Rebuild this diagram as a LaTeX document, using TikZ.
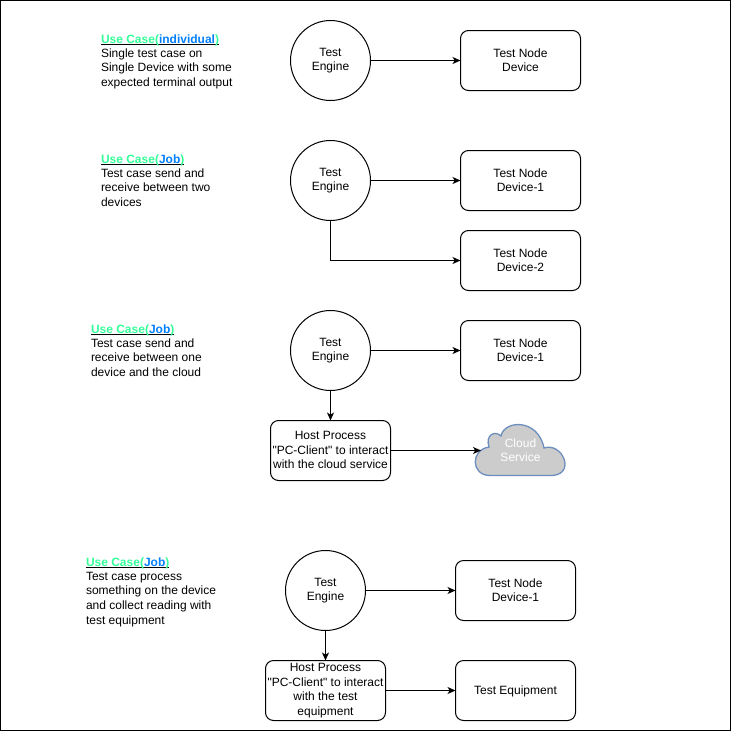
\documentclass[tikz,border=0pt]{standalone}
\usepackage{fontspec}
\newfontfamily\plainfont{Liberation Sans}
\usetikzlibrary{arrows.meta}
\definecolor{ucgreen}{HTML}{33FF99}
\definecolor{ucblue}{HTML}{007FFF}
\definecolor{cloudfill}{HTML}{CCCCCC}
\definecolor{cloudline}{HTML}{6C8EBF}
\newcommand{\uchead}[1]{\setbox0=\hbox{\textbf{\textcolor{ucgreen}{Use Case(}\textcolor{ucblue}{#1}\textcolor{ucgreen}{)}}}\lower1pt\hbox{\rlap{\rule[-1.4pt]{\wd0}{0.8pt}}\box0}}
\newcommand{\lblstrut}{\rule[-0.6pt]{0pt}{14.6pt}}
\tikzset{
  x=1pt,y=-1pt,
  every node/.style={font=\plainfont\fontsize{12}{14.6}\selectfont,inner sep=0pt,outer sep=0pt},
  strutted/.style={execute at begin node=\lblstrut,execute at end node=\lblstrut},
  engine/.style={strutted,draw,line width=1pt,circle,minimum size=80pt,align=center},
  devbox/.style={strutted,draw,line width=1pt,rounded corners=8pt,minimum width=120pt,minimum height=60pt,align=center},
  cloudtext/.style={strutted,text=white,align=center},
  notetext/.style={anchor=north west,align=left},
  conn/.style={draw,line width=1pt,-{Stealth[length=8pt,width=7pt,inset=2.2pt]}},
}
\begin{document}
\begin{tikzpicture}
\useasboundingbox (0,0) rectangle (731,731);
\draw[line width=1pt] (0.5,0.5) rectangle (730.5,730.5);

% Row 1
\node[notetext] (n1) at (101,35) {\uchead{individual}\\Single test case on\\Single Device with some\\expected terminal output};
\node[engine] (e1) at (330.5,60.5) {Test\\Engine};
\node[devbox] (d1) at (520.5,60.5) {Test Node\\Device};
\draw[conn] (e1) -- (d1);

% Row 2
\node[notetext] (n2) at (101,155) {\uchead{Job}\\Test case send and\\receive between two\\devices};
\node[engine] (e2) at (330.5,180.5) {Test\\Engine};
\node[devbox] (d2a) at (520.5,180.5) {Test Node\\Device-1};
\node[devbox] (d2b) at (520.5,260.5) {Test Node\\Device-2};
\draw[conn] (e2) -- (d2a);
\draw[conn] (e2.south) |- (d2b.west);

% Row 3
\node[notetext] (n3) at (91,325) {\uchead{Job}\\Test case send and\\receive between one\\device and the cloud};
\node[engine] (e3) at (330.5,350.5) {Test\\Engine};
\node[devbox] (d3) at (520.5,350.5) {Test Node\\Device-1};
\node[devbox] (h3) at (330.5,450.5) {Host Process\\"PC-Client" to interact\\with the cloud service};
\draw[conn] (e3) -- (d3);
\draw[conn] (e3) -- (h3);
\draw[line width=1.3pt,draw=cloudline,fill=cloudfill]
  (490,475.5) .. controls (471,475.5) and (470,450) .. (489,447)
  .. controls (485,435) and (495,430) .. (501,436)
  .. controls (504,420) and (538,418) .. (544,448)
  .. controls (562,442) and (576,473) .. (553,475.5) -- cycle;
\node[cloudtext] (c3) at (520.5,450.5) {Cloud\\Service};
\coordinate (c3in) at (481,450.5);
\draw[conn] (h3) -- (c3in);

% Row 4
\node[notetext] (n4) at (86,558) {\uchead{Job}\\Test case process\\something on the device\\and collect reading with\\test equipment};
\node[engine] (e4) at (325.5,590.5) {Test\\Engine};
\node[devbox] (d4) at (515.5,590.5) {Test Node\\Device-1};
\node[devbox] (h4) at (325.5,690.5) {Host Process\\"PC-Client" to interact\\with the test\\equipment};
\node[devbox] (t4) at (515.5,690.5) {\raisebox{2.5pt}{Test Equipment}};
\draw[conn] (e4) -- (d4);
\draw[conn] (e4) -- (h4);
\draw[conn] (h4) -- (t4);
\end{tikzpicture}
\end{document}
